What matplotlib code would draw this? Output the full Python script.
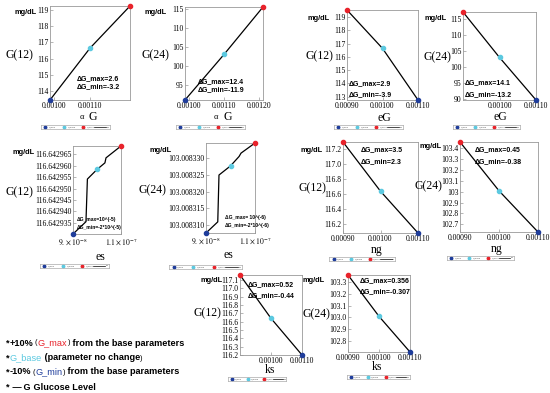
import matplotlib
matplotlib.use("Agg")
import matplotlib.pyplot as plt

plt.rcParams['mathtext.fontset'] = 'stix'

RED = '#e8232b'
CYAN = '#5cc9e0'
BLUE = '#1f3d9b'
SERIF = 'Liberation Serif'
SANS = 'Liberation Sans'

# ===========================
#      Data
# ===========================
alphaG_x = [0.00099, 0.00110, 0.00121]
alphaG_G12 = [113.44, 116.64, 119.24]
alphaG_G24 = [91.1, 103.0, 115.4]

eG_x = [0.00090, 0.00100, 0.00110]
eG_G12 = [119.54, 116.64, 112.74]
eG_G24 = [117.1, 103.0, 89.8]

es_x12 = [9.0e-8, 9.54e-8, 9.6e-8, 1.0e-7, 1.033e-7, 1.0375e-7, 1.1e-7]
es_G12 = [116.6429301, 116.6429355, 116.6429542, 116.6429584,
          116.6429613, 116.6429635, 116.6429687]
es_x24 = [9.0e-8, 9.48e-8, 9.53e-8, 1.0e-7, 1.035e-7, 1.043e-7, 1.1e-7]
es_G24 = [103.0083077, 103.0083110, 103.0083249, 103.0083276,
          103.0083304, 103.0083314, 103.0083344]

ng_x = [0.00090, 0.00100, 0.00110]
ng_G12 = [117.30, 116.64, 116.08]
ng_G24 = [103.458, 103.008, 102.628]

ks_x = [0.00090, 0.00100, 0.00110]
ks_G12 = [117.16, 116.64, 116.20]
ks_G24 = [103.364, 103.008, 102.701]

# tick values / labels
yt_a12 = [114, 115, 116, 117, 118, 119]
yt_a24 = [95, 100, 105, 110, 115]
yt_e12 = [113, 114, 115, 116, 117, 118, 119]
yt_e24 = [90, 95, 100, 105, 110, 115]
yt_s12 = [116.642935, 116.642940, 116.642945, 116.642950, 116.642955, 116.642960, 116.642965]
yt_s24 = [103.008310, 103.008315, 103.008320, 103.008325, 103.008330]
yt_n12 = [116.2, 116.4, 116.6, 116.8, 117.0, 117.2]
yt_n24 = [102.7, 102.8, 102.9, 103.0, 103.1, 103.2, 103.3, 103.4]
yl_n24 = ['102.7', '102.8', '102.9', '103', '103.1', '103.2', '103.3', '103.4']
yt_k12 = [116.2, 116.3, 116.4, 116.5, 116.6, 116.7, 116.8, 116.9, 117.0, 117.1]
yt_k24 = [102.8, 102.9, 103.0, 103.1, 103.2, 103.3]

W, H = 550, 393
fig = plt.figure(figsize=(5.5, 3.93), dpi=100)


def box(x0, y0, x1, y1):
    return [x0 / W, 1 - y1 / H, (x1 - x0) / W, (y1 - y0) / H]


def ftext(x, y, s, **kw):
    return fig.text(x / W, 1 - y / H, s, **kw)


def panel(px, x, y, base, xt, xl, yt, yl):
    ax = fig.add_axes(box(*px))
    ax.plot(x, y, color='black', lw=0.9)
    imin = y.index(min(y))
    imax = y.index(max(y))
    for i, c in ((imin, BLUE), (base, CYAN), (imax, RED)):
        ax.plot(x[i], y[i], 'o', color=c, ms=3, clip_on=False, zorder=5)
    ax.set_xlim(min(x), max(x))
    ax.set_ylim(min(y), max(y))
    ax.set_xticks(xt)
    ax.set_xticklabels(xl, fontsize=5.5, family=SERIF)
    ax.set_yticks(yt)
    ax.set_yticklabels(yl, fontsize=5.5, family=SERIF)
    for s in ax.spines.values():
        s.set_color('#999999')
        s.set_linewidth(0.6)
    ax.tick_params(direction='in', length=2, width=0.5, color='#999999', pad=1.2)
    return ax


def legend_strip(cx, cy, w):
    lax = fig.add_axes(box(cx - w / 2, cy - 2.3, cx + w / 2, cy + 2.3))
    lax.set_xlim(0, 1)
    lax.set_ylim(0, 1)
    lax.set_xticks([])
    lax.set_yticks([])
    for s in lax.spines.values():
        s.set_color('#aaaaaa')
        s.set_linewidth(0.5)
    for xp, c, lab in ((0.07, BLUE, 'G_min'), (0.34, CYAN, 'G_base'), (0.62, RED, 'G_max')):
        lax.plot(xp, 0.5, 'o', color=c, ms=1.8)
        lax.text(xp + 0.05, 0.5, lab, fontsize=1.6, va='center', color='#555555')
    lax.plot([0.78, 0.95], [0.5, 0.5], color='black', lw=0.5)
    lax.text(0.96, 0.5, 'G', fontsize=1.6, va='center')


def labels(ylab, ylx, yly, mgx, mgy, dmax, dmin, dx, dy1, dy2, dsize=5):
    ftext(ylx, yly, ylab, fontsize=8.5, family=SERIF, ha='center', va='center')
    ftext(mgx, mgy, 'mg/dL', fontsize=5.3, family=SANS, fontweight='bold',
          ha='right', va='center')
    ftext(dx, dy1, dmax, fontsize=dsize, family=SANS, fontweight='bold', va='center')
    ftext(dx, dy2, dmin, fontsize=dsize, family=SANS, fontweight='bold', va='center')


# ---- row 1 ----
panel((50, 6, 130, 100), alphaG_x, alphaG_G12, 1, [0.0010, 0.0011],
      ['0.00100', '0.00110'], yt_a12, [str(v) for v in yt_a12])
labels('G(12)', 19, 55, 37, 12, 'ΔG_max=2.6', 'ΔG_min=-3.2', 77, 79, 87)
ftext(82, 117, 'α', fontsize=6, family=SERIF, ha='center', va='center')
ftext(93, 117, 'G', fontsize=8.5, family=SERIF, ha='center', va='center')
legend_strip(75, 127, 69)

panel((185, 7, 263, 100), alphaG_x, alphaG_G24, 1, [0.0010, 0.0011, 0.0012],
      ['0.00100', '0.00110', '0.00120'], yt_a24, [str(v) for v in yt_a24])
labels('G(24)', 155, 55, 167, 13, 'ΔG_max=12.4', 'ΔG_min=-11.9', 198, 82, 90)
ftext(216, 117, 'α', fontsize=6, family=SERIF, ha='center', va='center')
ftext(228, 117, 'G', fontsize=8.5, family=SERIF, ha='center', va='center')
legend_strip(210, 127, 69)

panel((347, 10, 418, 100), eG_x, eG_G12, 1, [0.0009, 0.0010, 0.0011],
      ['0.00090', '0.00100', '0.00110'], yt_e12, [str(v) for v in yt_e12])
labels('G(12)', 319, 56, 330, 19, 'ΔG_max=2.9', 'ΔG_min=-3.9', 349, 84, 95)
ftext(384, 118, 'eG', fontsize=8.5, family=SERIF, ha='center', va='center')
legend_strip(368, 127, 69)

panel((463, 12, 536, 100), eG_x, eG_G24, 1, [0.0010, 0.0011],
      ['0.00100', '0.00110'], yt_e24, [str(v) for v in yt_e24])
labels('G(24)', 437, 57, 447, 18, 'ΔG_max=14.1', 'ΔG_min=-13.2', 465, 83, 95)
ftext(500, 117, 'eG', fontsize=8.5, family=SERIF, ha='center', va='center')
legend_strip(486, 127, 67)

# ---- row 2 ----
es_xl = [r'$9.\times10^{-8}$', r'$1.1\times10^{-7}$']
panel((73, 146, 121, 234), es_x12, es_G12, 3, [9e-8, 1.1e-7], es_xl,
      yt_s12, ['%.6f' % v for v in yt_s12])
labels('G(12)', 19, 192, 35, 152, 'ΔG_max=10^(-5)', 'ΔG_min=-2*10^(-5)',
       77, 219, 227, dsize=3.6)
ftext(100, 257, 'es', fontsize=8.5, family=SERIF, ha='center', va='center')
legend_strip(74, 266, 69)

panel((206, 143, 255, 233), es_x24, es_G24, 3, [9e-8, 1.1e-7], es_xl,
      yt_s24, ['%.6f' % v for v in yt_s24])
labels('G(24)', 152, 190, 172, 151, 'ΔG_max= 10^(-6)', 'ΔG_min=-2*10^(-6)',
       225, 217, 226, dsize=3.6)
ftext(228, 255, 'es', fontsize=8.5, family=SERIF, ha='center', va='center')
legend_strip(205, 267, 73)

panel((343, 142, 418, 233), ng_x, ng_G12, 1, [0.0009, 0.0010, 0.0011],
      ['0.00090', '0.00100', '0.00110'], yt_n12, ['%.1f' % v for v in yt_n12])
labels('G(12)', 312, 188, 323, 150, 'ΔG_max=3.5', 'ΔG_min=2.3', 361, 150, 162)
ftext(377, 250, 'ng', fontsize=8.5, family=SERIF, ha='center', va='center')
legend_strip(362, 259, 66)

panel((460, 142, 538, 232), ng_x, ng_G24, 1, [0.0009, 0.0010, 0.0011],
      ['0.00090', '0.00100', '0.00110'], yt_n24, yl_n24)
labels('G(24)', 428, 186, 442, 146, 'ΔG_max=0.45', 'ΔG_min=-0.38', 475, 150, 162)
ftext(497, 249, 'ng', fontsize=8.5, family=SERIF, ha='center', va='center')
legend_strip(480, 258, 67)

# ---- row 3 ----
panel((240, 275, 302, 355), ks_x, ks_G12, 1, [0.0010, 0.0011],
      ['0.00100', '0.00110'], yt_k12, ['%.1f' % v for v in yt_k12])
labels('G(12)', 207, 313, 223, 280, 'ΔG_max=0.52', 'ΔG_min=-0.44', 248, 285, 296)
ftext(270, 370, 'ks', fontsize=8.5, family=SERIF, ha='center', va='center')
legend_strip(257, 379, 58)

panel((348, 275, 410, 352), ks_x, ks_G24, 1, [0.0009, 0.0010, 0.0011],
      ['0.00090', '0.00100', '0.00110'], yt_k24, ['%.1f' % v for v in yt_k24])
labels('G(24)', 316, 314, 325, 280, 'ΔG_max=0.356', 'ΔG_min=-0.307', 360, 281, 292)
ftext(377, 367, 'ks', fontsize=8.5, family=SERIF, ha='center', va='center')
legend_strip(378, 377, 63)

# ===========================
#   Notes at bottom left
# ===========================
renderer = fig.canvas.get_renderer()


def rich(x, y, parts):
    for s, color, size, weight in parts:
        t = ftext(x, y, s, color=color, fontsize=size, fontweight=weight,
                  family=SANS, va='center')
        x += t.get_window_extent(renderer).width


FS = 6.6
FP = 5.3
rich(6, 343, [('*', 'black', FS, 'bold'), ('+10%', 'black', FS, 'bold'),
              (' (', 'black', FP, 'normal'), ('G_max', RED, FS, 'normal'),
              (')', 'black', FP, 'normal'), (' from the base parameters', 'black', FS, 'bold')])
rich(6, 358, [('*', 'black', FS, 'bold'), ('G_base', CYAN, FS, 'normal'),
              (' (parameter no change', 'black', FS, 'bold'), (')', 'black', FP, 'normal')])
rich(6, 372, [('*', 'black', FS, 'bold'), ('-10%', 'black', FS, 'bold'),
              (' (', 'black', FP, 'normal'), ('G_min', BLUE, FS, 'normal'),
              (')', 'black', FP, 'normal'), (' from the base parameters', 'black', FS, 'bold')])
rich(6, 387, [('*', 'black', FS, 'bold'), (' \u2014', 'black', FS, 'bold'),
              (' G', 'black', FS, 'bold'), (' Glucose Level', 'black', FS, 'bold')])

plt.savefig('out.png', dpi=100)
plt.close()
